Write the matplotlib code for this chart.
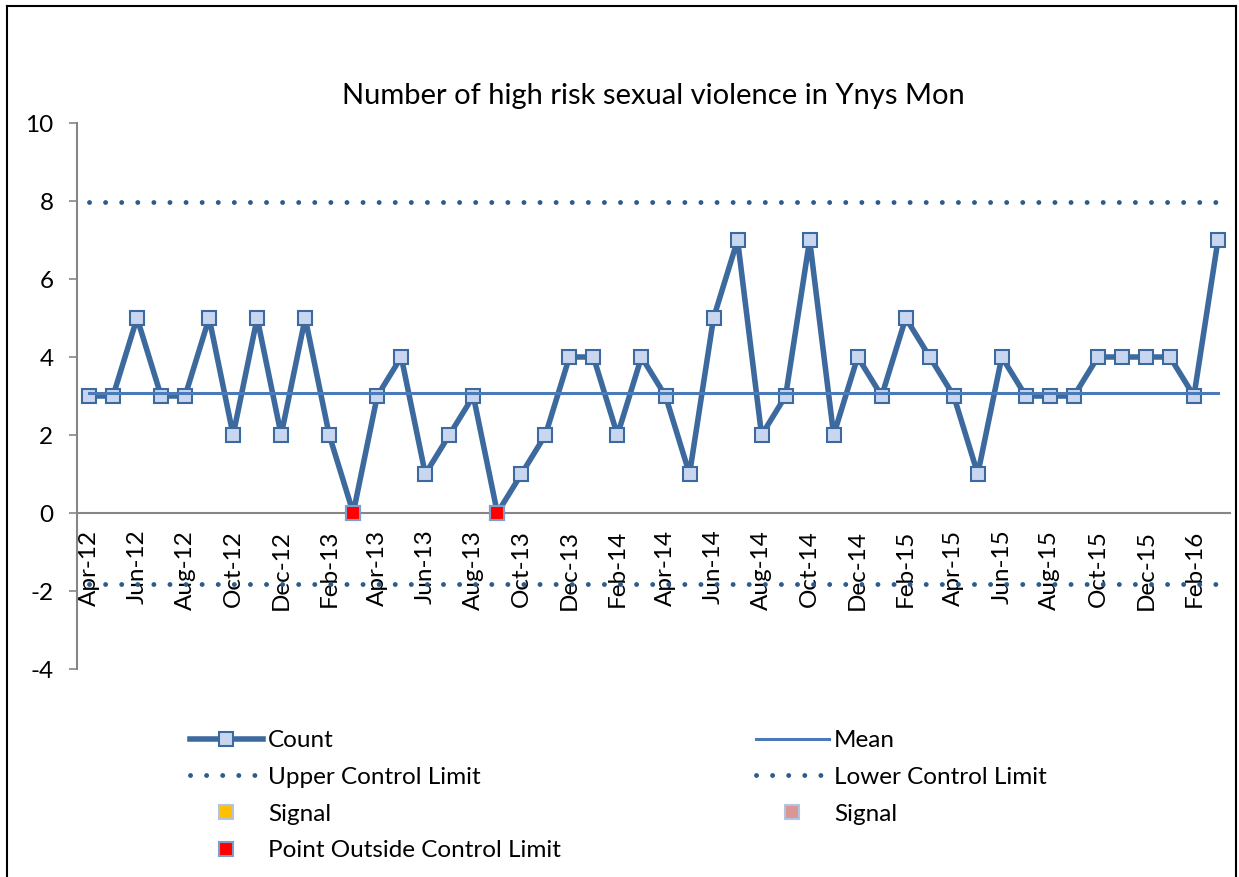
import numpy as np
import matplotlib
matplotlib.use('Agg')
import matplotlib.pyplot as plt
from matplotlib.lines import Line2D

plt.rcParams['font.family'] = ['Lato', 'DejaVu Sans']
plt.rcParams['axes.unicode_minus'] = False

# monthly counts Apr-12 .. Mar-16
counts = [3, 3, 5, 3, 3, 5, 2, 5, 2, 5, 2, 0,
          3, 4, 1, 2, 3, 0, 1, 2, 4, 4, 2, 4,
          3, 1, 5, 7, 2, 3, 7, 2, 4, 3, 5, 4,
          3, 1, 4, 3, 3, 3, 4, 4, 4, 4, 3, 7]
outside_idx = [11, 17]
mean_val = 3.08
ucl_val = 7.97
lcl_val = -1.82
tick_labels = ['Apr-12', 'Jun-12', 'Aug-12', 'Oct-12', 'Dec-12', 'Feb-13',
               'Apr-13', 'Jun-13', 'Aug-13', 'Oct-13', 'Dec-13', 'Feb-14',
               'Apr-14', 'Jun-14', 'Aug-14', 'Oct-14', 'Dec-14', 'Feb-15',
               'Apr-15', 'Jun-15', 'Aug-15', 'Oct-15', 'Dec-15', 'Feb-16']

x = np.arange(len(counts))
outside = np.full(len(counts), np.nan)
outside[outside_idx] = np.array(counts)[outside_idx]

line_col = '#3d6a9e'
mark_fill = '#c9d6f0'
dot_col = '#2e5a8c'
fs = 17.5

fig = plt.figure(figsize=(12.39, 8.77), dpi=100)
ax = fig.add_axes([77 / 1239, 1 - 669 / 877, (1230 - 77) / 1239, (669 - 123) / 877])

cnt, = ax.plot(x, counts, color=line_col, lw=4.0, marker='s', ms=10,
               mfc=mark_fill, mec=line_col, mew=1.5, zorder=3, label='Count')
mean, = ax.plot(x, np.full(len(x), mean_val), color='#4a7ab8', lw=2.2,
                zorder=5, label='Mean')
ucl, = ax.plot(x, np.full(len(x), ucl_val), color=dot_col, lw=3.5,
               ls=(0, (0.01, 3.3)), dash_capstyle='round', zorder=2,
               label='Upper Control Limit')
lcl, = ax.plot(x, np.full(len(x), lcl_val), color=dot_col, lw=3.5,
               ls=(0, (0.01, 3.3)), dash_capstyle='round', zorder=2,
               label='Lower Control Limit')
out, = ax.plot(x, outside, ls='none', marker='s', ms=10, mfc='#ff0000',
               mec='#7f9ccb', mew=1.5, zorder=6,
               label='Point Outside Control Limit')
sig1, = ax.plot([], [], ls='none', marker='s', ms=10, mfc='#ffc000',
                mec='#b4c4e0', mew=1.5, label='Signal')
sig2, = ax.plot([], [], ls='none', marker='s', ms=10, mfc='#d99694',
                mec='#b4c4e0', mew=1.5, label='Signal')

for s in ['top', 'right']:
    ax.spines[s].set_visible(False)
ax.spines['bottom'].set_position(('data', 0))
ax.spines['bottom'].set_color('#868686')
ax.spines['bottom'].set_linewidth(1.5)
ax.spines['left'].set_color('#868686')
ax.spines['left'].set_linewidth(1.5)

ax.set_xlim(-0.5, len(counts) - 0.5)
ax.set_ylim(-4, 10)
ax.set_yticks(range(-4, 11, 2))
ax.set_xticks(x[::2])
ax.set_xticklabels(tick_labels)
ax.tick_params(axis='y', length=6, width=1.2, color='#868686', pad=11,
               labelsize=fs)
ax.tick_params(axis='x', length=0, pad=12, labelsize=fs, labelrotation=90)

fig.text(653 / 1239, 1 - 96 / 877, 'Number of high risk sexual violence in Ynys Mon',
         ha='center', va='center', fontsize=21)

leg_kw = dict(frameon=False, fontsize=fs, handlelength=3.0, handletextpad=0.2,
              labelspacing=0.65, borderpad=0, borderaxespad=0, numpoints=1)
fig.legend(handles=[cnt, ucl, sig1, out], loc='upper left',
           bbox_to_anchor=(190 / 1239, 1 - 730 / 877), **leg_kw)
fig.legend(handles=[mean, lcl, sig2], loc='upper left',
           bbox_to_anchor=(756 / 1239, 1 - 730 / 877), **leg_kw)

# chart border
fig.add_artist(Line2D([7 / 1239, 1236 / 1239], [1 - 6 / 877, 1 - 6 / 877],
                      color='black', lw=1.5))
fig.add_artist(Line2D([7 / 1239, 7 / 1239], [0, 1 - 6 / 877], color='black', lw=1.5))
fig.add_artist(Line2D([1236 / 1239, 1236 / 1239], [0, 1 - 6 / 877], color='black', lw=1.5))

fig.savefig('out.png', dpi=100)
